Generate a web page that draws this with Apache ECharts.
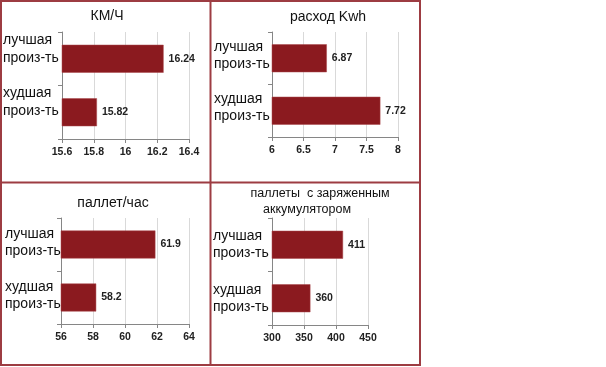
<!DOCTYPE html>
<html>
<head>
<meta charset="utf-8">
<script src="https://cdn.jsdelivr.net/npm/echarts@6/dist/echarts.min.js"></script>
<style>
html,body{margin:0;padding:0;background:#fff;}
#c{width:606px;height:367px;}
</style>
</head>
<body>
<div id="c"></div>
<script>
const categories = ['лучшая\nпроиз-ть', 'худшая\nпроиз-ть'];
const kmhValues = [16.24, 15.82];
const kwhValues = [6.87, 7.72];
const palletsHourValues = [61.9, 58.2];
const palletsChargedValues = [411, 360];
const titles = ['КМ/Ч', 'расход Kwh', 'паллет/час', ['паллеты  с заряженным', 'аккумулятором']];
const axisRanges = [
  {min: 15.6, max: 16.4, interval: 0.2},
  {min: 6, max: 8, interval: 0.5},
  {min: 56, max: 64, interval: 2},
  {min: 300, max: 450, interval: 50}
];
const seriesValues = [kmhValues, kwhValues, palletsHourValues, palletsChargedValues];

const chart = echarts.init(document.getElementById('c'), null, {renderer: 'canvas'});
const grids = [
  {left: 61, top: 32, width: 128, height: 107},
  {left: 272, top: 32, width: 126, height: 105},
  {left: 61, top: 218, width: 128, height: 106},
  {left: 272, top: 218, width: 96, height: 107}
];
const labelMargins = [59, 58, 56, 59];
const spacer = [20, 6, 4, 0];
const lineH = [18, 17, 17, 17];
const FONT = 'Liberation Sans, Arial, sans-serif';
const AX = '#868686';

const xAxes = [], yAxes = [], series = [];
for (let i = 0; i < 4; i++) {
  xAxes.push({
    type: 'value', gridIndex: i,
    min: axisRanges[i].min, max: axisRanges[i].max, interval: axisRanges[i].interval,
    axisLine: {show: true, lineStyle: {color: AX, width: 1}},
    axisTick: {show: true, length: 4, lineStyle: {color: AX}},
    splitLine: {show: true, lineStyle: {color: '#d9d9d9', width: 1}},
    axisLabel: {color: '#222', fontFamily: FONT, fontWeight: 'bold', fontSize: 10.5, margin: 8}
  });
  const sp = spacer[i];
  yAxes.push({
    type: 'category', gridIndex: i, data: categories, inverse: true,
    axisLine: {show: true, lineStyle: {color: AX, width: 1}},
    axisTick: {show: true, length: 4, alignWithLabel: false, lineStyle: {color: AX}},
    axisLabel: {
      interval: 0, hideOverlap: false,
      align: 'left', margin: labelMargins[i],
      formatter: function (v) {
        const parts = v.split('\n').map(p => '{a|' + p + '}');
        return parts.join('\n') + (sp > 0 ? '\n{s| }' : '');
      },
      rich: {
        a: {color: '#111', fontFamily: FONT, fontSize: 14, lineHeight: lineH[i], align: 'left'},
        s: {fontSize: 1, lineHeight: sp, align: 'left'}
      }
    }
  });
  series.push({
    type: 'bar', xAxisIndex: i, yAxisIndex: i, data: seriesValues[i],
    barWidth: 28,
    itemStyle: {color: '#8b1a1f', borderColor: '#a8484c', borderWidth: 0.5},
    label: {show: true, position: 'right', distance: 5, color: '#222',
      fontFamily: FONT, fontWeight: 'bold', fontSize: 10.5}
  });
}

const B = '#9d3c42';
const graphic = [
  {type: 'rect', shape: {x: 1, y: 1, width: 419, height: 364}, style: {fill: 'none', stroke: B, lineWidth: 2}, z: 100},
  {type: 'line', shape: {x1: 210.5, y1: 0, x2: 210.5, y2: 366}, style: {stroke: B, lineWidth: 2}, z: 100},
  {type: 'line', shape: {x1: 0, y1: 182.5, x2: 421, y2: 182.5}, style: {stroke: B, lineWidth: 2}, z: 100},
  {type: 'text', x: 107, y: 16, style: {text: titles[0], fill: '#111', font: '14px ' + FONT, textAlign: 'center', textVerticalAlign: 'middle'}},
  {type: 'text', x: 328, y: 17, style: {text: titles[1], fill: '#111', font: '14px ' + FONT, textAlign: 'center', textVerticalAlign: 'middle'}},
  {type: 'text', x: 113, y: 203, style: {text: titles[2], fill: '#111', font: '14px ' + FONT, textAlign: 'center', textVerticalAlign: 'middle'}},
  {type: 'text', x: 320, y: 194, style: {text: titles[3][0], fill: '#111', font: '12.5px ' + FONT, textAlign: 'center', textVerticalAlign: 'middle'}},
  {type: 'text', x: 307, y: 210, style: {text: titles[3][1], fill: '#111', font: '12.5px ' + FONT, textAlign: 'center', textVerticalAlign: 'middle'}}
];

chart.setOption({
  animation: false,
  backgroundColor: '#fff',
  grid: grids,
  xAxis: xAxes,
  yAxis: yAxes,
  series: series,
  graphic: graphic
});
</script>
</body>
</html>
